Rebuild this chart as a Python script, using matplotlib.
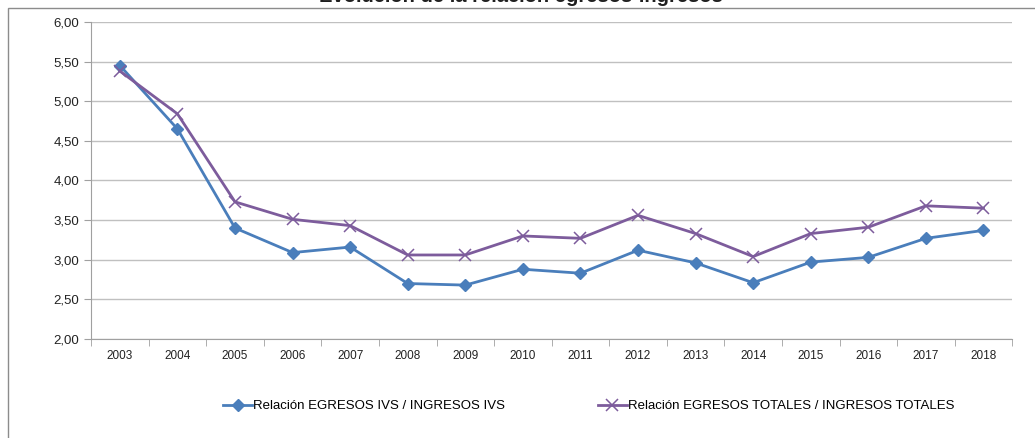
import numpy as np
import matplotlib.pyplot as plt
from matplotlib.patches import Rectangle
from matplotlib.ticker import FuncFormatter

plt.rcParams['font.family'] = ['Liberation Sans Narrow', 'Liberation Sans', 'DejaVu Sans']

# data
years = ["2003", "2004", "2005", "2006", "2007", "2008", "2009", "2010",
         "2011", "2012", "2013", "2014", "2015", "2016", "2017", "2018"]
ivs = [5.45, 4.65, 3.40, 3.09, 3.16, 2.70, 2.68, 2.88,
       2.83, 3.12, 2.96, 2.71, 2.97, 3.03, 3.27, 3.37]
totales = [5.38, 4.84, 3.73, 3.51, 3.43, 3.06, 3.06, 3.30,
           3.27, 3.56, 3.33, 3.04, 3.33, 3.41, 3.68, 3.65]

label_ivs = "Relación EGRESOS IVS / INGRESOS IVS"
label_tot = "Relación EGRESOS TOTALES / INGRESOS TOTALES"
title = "Evolución de la relación egresos-ingresos"

BLUE = "#4a7ebb"
PURPLE = "#7d5c9c"
GRID = "#c0c0c0"

fig = plt.figure(figsize=(10.35, 4.38), dpi=100)
ax = fig.add_axes([0.088, 0.226, 0.890, 0.724])

x = np.arange(len(years))
ax.plot(x, ivs, color=BLUE, lw=2.0, marker="D", ms=6, label=label_ivs)
ax.plot(x, totales, color=PURPLE, lw=2.0, marker="x", ms=8, mew=1.1,
        label=label_tot)

ax.set_xlim(-0.5, len(years) - 0.5)
ax.set_ylim(2.0, 6.0)
ax.set_yticks(np.arange(2.0, 6.01, 0.5))
ax.yaxis.set_major_formatter(FuncFormatter(lambda v, p: f"{v:.2f}".replace(".", ",")))
ax.set_xticks(x)
ax.set_xticklabels(years)
ax.set_xticks(np.arange(-0.5, len(years), 1), minor=True)
ax.tick_params(axis="x", which="major", length=0, labelsize=8.5, pad=8, colors="#222222")
ax.tick_params(axis="x", which="minor", length=5, color="#a0a0a0")
ax.tick_params(axis="y", length=5, color="#a0a0a0", labelsize=9.5, colors="#222222")
ax.grid(axis="y", color=GRID, lw=1)
ax.set_axisbelow(True)
for s in ["top", "right"]:
    ax.spines[s].set_visible(False)
ax.spines["left"].set_color("#a0a0a0")
ax.spines["bottom"].set_color("#a0a0a0")

fig.legend(loc="center", bbox_to_anchor=(0.569, 0.073), ncol=2, frameon=False,
           fontsize=9.5, columnspacing=7, handlelength=2.2, handletextpad=0.1)

# chart area border, partly outside the image
fig.patches.append(Rectangle((8 / 1035, -0.1), 1.2, 1 - 8 / 438 + 0.1,
                             transform=fig.transFigure, fill=False,
                             edgecolor="#8c8c8c", lw=1))
fig.text(0.503, 1.0 + 4 / 438, title, ha="center", va="center", fontsize=14.5,
         fontweight="bold", color="#1f1f1f")

fig.savefig("out.png", dpi=100)
